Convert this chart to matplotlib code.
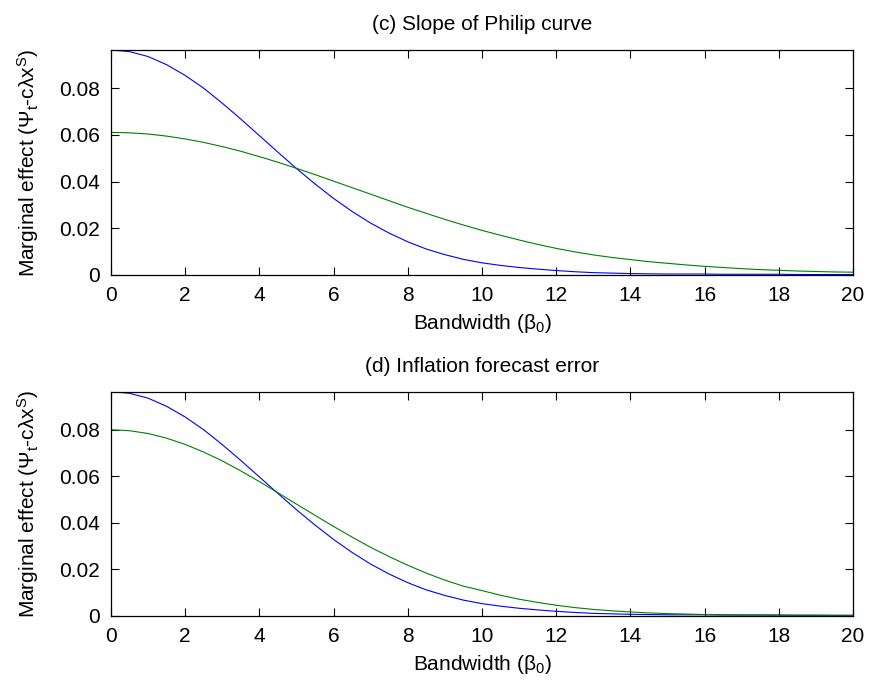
import matplotlib
matplotlib.use("Agg")
import matplotlib.pyplot as plt

# ===== Data =====
bandwidth = [0, 0.5, 1, 1.5, 2, 2.5, 3, 3.5, 4, 4.5, 5, 5.5, 6, 6.5, 7, 7.5, 8, 8.5, 9, 9.5,
             10, 10.5, 11, 11.5, 12, 12.5, 13, 13.5, 14, 14.5, 15, 15.5, 16, 16.5, 17, 17.5,
             18, 18.5, 19, 19.5, 20]

# baseline (blue), same in both panels
baseline = [0.0964, 0.0957, 0.0936, 0.0901, 0.0855, 0.0800, 0.0736, 0.0668, 0.0597, 0.0526,
            0.0456, 0.0390, 0.0328, 0.0272, 0.0222, 0.0179, 0.0142, 0.0111, 0.0087, 0.0067,
            0.0052, 0.0041, 0.0032, 0.0025, 0.0019, 0.0014, 0.0010, 0.0008, 0.0006, 0.0005,
            0.0004, 0.0004, 0.0004, 0.0003, 0.0003, 0.0003, 0.0003, 0.0002, 0.0002, 0.0002,
            0.0002]

# (c) slope of Philip curve (green)
philip = [0.0611, 0.0609, 0.0604, 0.0595, 0.0583, 0.0568, 0.0550, 0.0530, 0.0507, 0.0483,
          0.0457, 0.0430, 0.0402, 0.0374, 0.0346, 0.0318, 0.0290, 0.0264, 0.0238, 0.0214,
          0.0191, 0.0170, 0.0150, 0.0131, 0.0114, 0.0099, 0.0086, 0.0075, 0.0066, 0.0057,
          0.0050, 0.0043, 0.0037, 0.0032, 0.0027, 0.0023, 0.0020, 0.0017, 0.0015, 0.0013,
          0.0012]

# (d) inflation forecast error (green)
inflation = [0.0800, 0.0796, 0.0784, 0.0764, 0.0737, 0.0704, 0.0666, 0.0623, 0.0577, 0.0529,
             0.0480, 0.0432, 0.0384, 0.0338, 0.0294, 0.0254, 0.0217, 0.0183, 0.0153, 0.0127,
             0.0108, 0.0088, 0.0071, 0.0057, 0.0045, 0.0035, 0.0027, 0.0021, 0.0016, 0.0012,
             0.0009, 0.0007, 0.0005, 0.0004, 0.0003, 0.0003, 0.0002, 0.0002, 0.0002, 0.0001,
             0.0001]

titles = ["(c) Slope of Philip curve", "(d) Inflation forecast error"]
xticks = list(range(0, 21, 2))
yticks = [0, 0.02, 0.04, 0.06, 0.08]
ytick_labels = ["0", "0.02", "0.04", "0.06", "0.08"]

# ===== Style =====
plt.rcParams['font.family'] = ['Liberation Sans', 'DejaVu Sans']
plt.rcParams['mathtext.fontset'] = 'custom'
plt.rcParams['mathtext.rm'] = 'Liberation Sans'
plt.rcParams['mathtext.it'] = 'Liberation Sans:italic'
plt.rcParams['font.size'] = 15

fig = plt.figure(figsize=(8.69, 6.82), dpi=100)
positions = [[0.1277, 0.5968, 0.854, 0.3299],
             [0.1277, 0.0972, 0.854, 0.3285]]

for pos, title, green in zip(positions, titles, [philip, inflation]):
    ax = fig.add_axes(pos)
    ax.plot(bandwidth, baseline, color=(0, 0, 1), lw=0.8)
    ax.plot(bandwidth, green, color=(0, 0.5, 0), lw=0.8)
    ax.set_xlim(0, 20)
    ax.set_ylim(0, max(baseline))
    ax.set_xticks(xticks)
    ax.set_yticks(yticks)
    ax.set_yticklabels(ytick_labels)
    ax.tick_params(direction='in', top=True, right=True, length=5.5, width=0.8, pad=8)
    for s in ax.spines.values():
        s.set_linewidth(0.9)
    ax.set_title(title, fontsize=15, pad=14.5)
    ax.set_xlabel(r'Bandwidth (β$_{\mathrm{0}}$)', labelpad=5)
    ax.set_ylabel(r'Marginal effect (Ψ$_{\mathrm{t}}$-cλx$^{\mathrm{S}}$)', labelpad=13)

fig.savefig("out.png", dpi=100)
